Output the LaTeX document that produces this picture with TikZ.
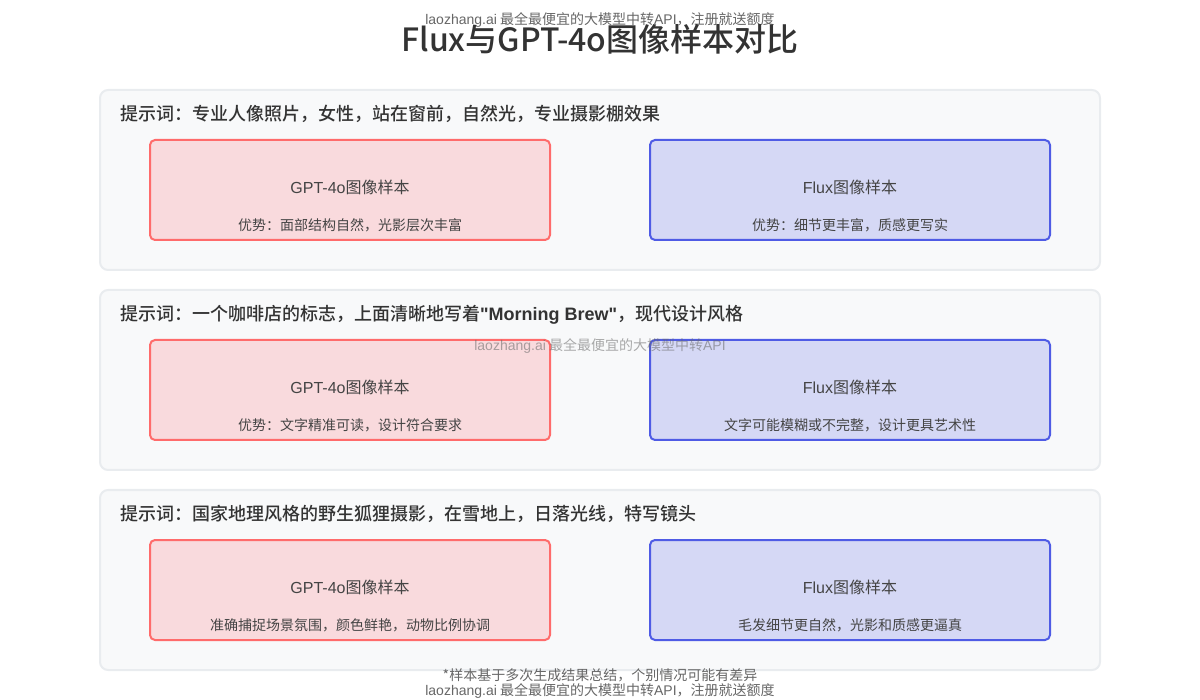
\documentclass[tikz,border=0pt]{standalone}
\usepackage{fontspec}
\setmainfont[BoldFont={Noto Sans CJK SC Medium}]{Noto Sans CJK SC}
\newfontfamily\latinfont{Liberation Sans}
\newcommand{\la}[1]{{\latinfont #1}}
\definecolor{inkgrey}{HTML}{333333}
\definecolor{softgrey}{HTML}{444444}
\definecolor{markgrey}{HTML}{666666}
\definecolor{panelfill}{HTML}{F8F9FA}
\definecolor{panelline}{HTML}{E9ECEF}
\definecolor{gptline}{HTML}{FF6B6B}
\definecolor{gptfill}{HTML}{F9DADD}
\definecolor{fluxline}{HTML}{4F5BE5}
\definecolor{fluxfill}{HTML}{D5D8F5}
\tikzset{
	panelbox/.style={draw=panelline, fill=panelfill, line width=2pt, rounded corners=8pt, minimum width=1000pt, minimum height=180pt},
	gptbox/.style={draw=gptline, fill=gptfill, line width=2pt, rounded corners=5pt, minimum width=400pt, minimum height=100pt},
	fluxbox/.style={draw=fluxline, fill=fluxfill, line width=2pt, rounded corners=5pt, minimum width=400pt, minimum height=100pt},
	prompt/.style={anchor=west, inner sep=0pt, text=inkgrey, font=\fontsize{18}{18}\selectfont\bfseries},
	sample/.style={inner sep=0pt, text=softgrey, font=\fontsize{16}{16}\selectfont},
	gain/.style={inner sep=0pt, text=softgrey, font=\fontsize{14}{14}\selectfont},
	wmark/.style={inner sep=0pt, text=markgrey, font=\fontsize{14}{14}\selectfont}
}
\begin{document}
\begin{tikzpicture}[x=1pt, y=-1pt]
	\useasboundingbox (0,0) rectangle (1200,700);

	\node[wmark] (marktop) at (600,20) {\la{laozhang.ai} 最全最便宜的大模型中转\la{API}，注册就送额度};
	\node[inner sep=0pt, text=inkgrey, font=\fontsize{32}{32}\selectfont\bfseries] (heading) at (600,39) {Flux与GPT-4o图像样本对比};

	% first row
	\node[panelbox] (panelone) at (600,180) {};
	\node[prompt] (promptone) at (120,114) {提示词：专业人像照片，女性，站在窗前，自然光，专业摄影棚效果};
	\node[gptbox] (gptone) at (350,190) {};
	\node[sample] at (350,187) {\la{GPT-4o}图像样本};
	\node[gain] at (350,225) {优势：面部结构自然，光影层次丰富};
	\node[fluxbox] (fluxone) at (850,190) {};
	\node[sample] at (850,187) {\la{Flux}图像样本};
	\node[gain] at (850,225) {优势：细节更丰富，质感更写实};

	% second row
	\node[panelbox] (paneltwo) at (600,380) {};
	\node[prompt] (prompttwo) at (120,315) {提示词：一个咖啡店的标志，上面清晰地写着\la{"Morning Brew"}，现代设计风格};
	\node[gptbox] (gpttwo) at (350,390) {};
	\node[sample] at (350,387) {\la{GPT-4o}图像样本};
	\node[gain] at (350,425) {优势：文字精准可读，设计符合要求};
	\node[fluxbox] (fluxtwo) at (850,390) {};
	\node[sample] at (850,387) {\la{Flux}图像样本};
	\node[gain] at (850,425) {文字可能模糊或不完整，设计更具艺术性};

	% third row
	\node[panelbox] (panelthree) at (600,580) {};
	\node[prompt] (promptthree) at (120,514) {提示词：国家地理风格的野生狐狸摄影，在雪地上，日落光线，特写镜头};
	\node[gptbox] (gptthree) at (350,590) {};
	\node[sample] at (350,587) {\la{GPT-4o}图像样本};
	\node[gain] at (350,625) {准确捕捉场景氛围，颜色鲜艳，动物比例协调};
	\node[fluxbox] (fluxthree) at (850,590) {};
	\node[sample] at (850,587) {\la{Flux}图像样本};
	\node[gain] at (850,625) {毛发细节更自然，光影和质感更逼真};

	\node[wmark, text opacity=0.55] (markmid) at (600,346) {\la{laozhang.ai} 最全最便宜的大模型中转\la{API}};
	\node[wmark] (footnote) at (600,675) {*样本基于多次生成结果总结，个别情况可能有差异};
	\node[wmark] (markbot) at (600,691) {\la{laozhang.ai} 最全最便宜的大模型中转\la{API}，注册就送额度};
\end{tikzpicture}
\end{document}
